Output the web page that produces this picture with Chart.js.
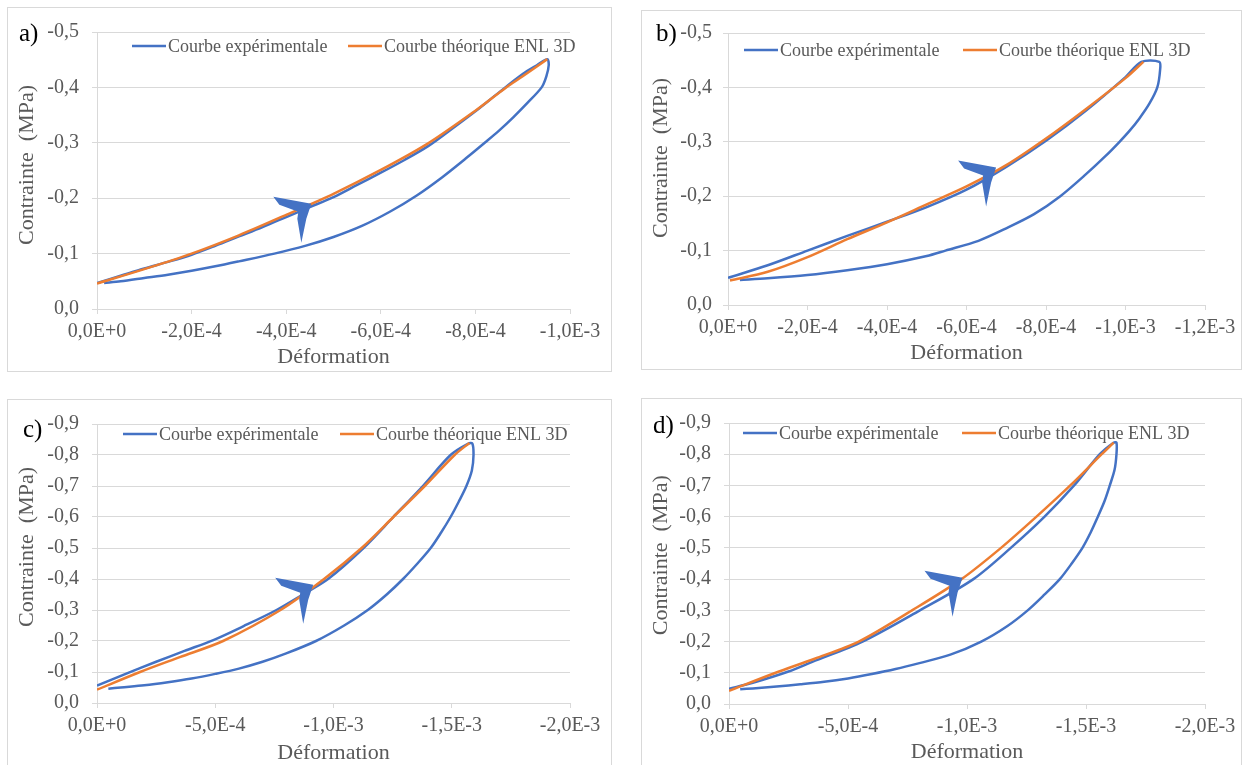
<!DOCTYPE html>
<html>
<head>
<meta charset="utf-8">
<script src="https://cdn.jsdelivr.net/npm/chart.js@4.4.1/dist/chart.umd.min.js"></script>
<style>
  body { margin: 0; background: #fff; width: 1245px; height: 765px; overflow: hidden; position: relative; font-family: 'Liberation Serif', serif; }
  .box { position: absolute; border: 1px solid #d9d9d9; box-sizing: border-box; }
  canvas { position: absolute; }
  .tag { position: absolute; font-size: 25px; line-height: 1; color: #000; }
</style>
</head>
<body>
<div class="box" style="left:7px;top:7px;width:605px;height:365px"></div>
<div class="box" style="left:641px;top:10px;width:601px;height:360px"></div>
<div class="box" style="left:7px;top:399px;width:605px;height:377px"></div>
<div class="box" style="left:641px;top:398px;width:601px;height:377px"></div>
<canvas id="chartA" width="605" height="365" style="left:7px;top:7px"></canvas>
<canvas id="chartB" width="601" height="360" style="left:641px;top:10px"></canvas>
<canvas id="chartC" width="605" height="377" style="left:7px;top:399px"></canvas>
<canvas id="chartD" width="601" height="377" style="left:641px;top:398px"></canvas>
<div class="tag" style="left:19px;top:20px">a)</div>
<div class="tag" style="left:656px;top:20px">b)</div>
<div class="tag" style="left:23px;top:416px">c)</div>
<div class="tag" style="left:653px;top:412px">d)</div>
<script>
// ---- données ----
const seriesNames = ['Courbe expérimentale', 'Courbe théorique ENL 3D'];
const xTitle = 'Déformation';
const yTitle = 'Contrainte  (MPa)';

// a)
const xLabelsA = ['0,0E+0', '-2,0E-4', '-4,0E-4', '-6,0E-4', '-8,0E-4', '-1,0E-3'];
const yLabelsA = ['0,0', '-0,1', '-0,2', '-0,3', '-0,4', '-0,5'];
const expStrainA = [0, -0.5e-4, -1e-4, -1.5e-4, -2e-4, -2.5e-4, -3e-4, -3.5e-4, -4e-4, -4.5e-4, -5e-4, -5.5e-4, -6e-4, -6.5e-4, -7e-4, -7.5e-4, -8e-4, -8.5e-4, -9e-4, -9.3e-4, -9.52e-4,
  -9.55e-4, -9.5e-4, -9.4e-4, -9.1e-4, -8.8e-4, -8.5e-4, -8.21e-4, -7.8e-4, -7.3e-4, -6.76e-4, -6.2e-4, -5.6e-4, -5.0e-4, -4.4e-4, -3.75e-4, -3.0e-4, -2.5e-4, -2.0e-4, -1.5e-4, -1.0e-4, -0.5e-4, -0.15e-4];
const expStressA = [-0.047, -0.060, -0.073, -0.085, -0.098, -0.114, -0.131, -0.148, -0.166, -0.184, -0.202, -0.224, -0.246, -0.269, -0.294, -0.325, -0.357, -0.391, -0.424, -0.440, -0.451,
  -0.440, -0.420, -0.400, -0.372, -0.346, -0.322, -0.301, -0.272, -0.238, -0.205, -0.176, -0.150, -0.130, -0.114, -0.100, -0.086, -0.077, -0.069, -0.062, -0.056, -0.050, -0.047];
const theoStrainA = [0, -1e-4, -2e-4, -3e-4, -4e-4, -5e-4, -6e-4, -7e-4, -8e-4, -8.65e-4, -9e-4, -9.52e-4];
const theoStressA = [-0.046, -0.072, -0.100, -0.133, -0.170, -0.208, -0.251, -0.299, -0.358, -0.400, -0.420, -0.451];
const arrowA = [-4.51e-4, -0.188];

// b)
const xLabelsB = ['0,0E+0', '-2,0E-4', '-4,0E-4', '-6,0E-4', '-8,0E-4', '-1,0E-3', '-1,2E-3'];
const yLabelsB = ['0,0', '-0,1', '-0,2', '-0,3', '-0,4', '-0,5'];
const expStrainB = [0, -1e-4, -2e-4, -3e-4, -4e-4, -5e-4, -6e-4, -7e-4, -8e-4, -9e-4, -1e-3, -1.04e-3, -1.085e-3,
  -1.087e-3, -1.08e-3, -1.06e-3, -1.035e-3, -1.01e-3, -9.85e-4, -9.5e-4, -9.0e-4, -8.36e-4, -7.7e-4, -7.0e-4, -6.3e-4, -5.47e-4, -5.0e-4, -4.0e-4, -3.0e-4, -2.0e-4, -1.0e-4, -0.3e-4];
const expStressB = [-0.050, -0.073, -0.100, -0.127, -0.153, -0.180, -0.212, -0.254, -0.302, -0.357, -0.419, -0.447, -0.447,
  -0.432, -0.400, -0.370, -0.343, -0.320, -0.300, -0.274, -0.240, -0.200, -0.167, -0.141, -0.118, -0.100, -0.090, -0.075, -0.064, -0.055, -0.049, -0.046];
const theoStrainB = [-0.05e-4, -1e-4, -2e-4, -3e-4, -4e-4, -5e-4, -6e-4, -7e-4, -8e-4, -9e-4, -1e-3, -1.045e-3];
const theoStressB = [-0.045, -0.061, -0.088, -0.121, -0.152, -0.185, -0.218, -0.257, -0.306, -0.360, -0.417, -0.447];
const arrowB = [-6.72e-4, -0.251];

// c)
const xLabelsC = ['0,0E+0', '-5,0E-4', '-1,0E-3', '-1,5E-3', '-2,0E-3'];
const yLabelsC = ['0,0', '-0,1', '-0,2', '-0,3', '-0,4', '-0,5', '-0,6', '-0,7', '-0,8', '-0,9'];
const expStrainC = [0, -1.24e-4, -2.5e-4, -3.7e-4, -4.92e-4, -6.2e-4, -7.59e-4, -8.7e-4, -9.77e-4, -1.127e-3, -1.253e-3, -1.378e-3, -1.495e-3, -1.57e-3, -1.587e-3,
  -1.592e-3, -1.585e-3, -1.562e-3, -1.53e-3, -1.495e-3, -1.455e-3, -1.411e-3, -1.355e-3, -1.294e-3, -1.225e-3, -1.145e-3, -1.045e-3, -9.26e-4, -8.0e-4, -7.0e-4, -6.0e-4, -5.0e-4, -4.0e-4, -3.0e-4, -2.0e-4, -1.0e-4, -0.48e-4];
const expStressC = [-0.056, -0.095, -0.133, -0.168, -0.203, -0.248, -0.300, -0.350, -0.400, -0.500, -0.600, -0.700, -0.800, -0.837, -0.837,
  -0.800, -0.750, -0.700, -0.650, -0.600, -0.550, -0.500, -0.450, -0.400, -0.350, -0.300, -0.250, -0.200, -0.160, -0.133, -0.111, -0.094, -0.079, -0.067, -0.057, -0.050, -0.046];
const theoStrainC = [0, -1.82e-4, -3.5e-4, -5.33e-4, -7.76e-4, -9.6e-4, -1.119e-3, -1.253e-3, -1.386e-3, -1.512e-3, -1.575e-3];
const theoStressC = [-0.043, -0.100, -0.148, -0.200, -0.300, -0.400, -0.500, -0.600, -0.700, -0.800, -0.839];
const arrowC = [-9.1e-4, -0.378];

// d)
const xLabelsD = ['0,0E+0', '-5,0E-4', '-1,0E-3', '-1,5E-3', '-2,0E-3'];
const yLabelsD = ['0,0', '-0,1', '-0,2', '-0,3', '-0,4', '-0,5', '-0,6', '-0,7', '-0,8', '-0,9'];
const expStrainD = [0, -1e-4, -2.5e-4, -3.5e-4, -5.61e-4, -8.02e-4, -1.027e-3, -1.184e-3, -1.326e-3, -1.45e-3, -1.558e-3, -1.616e-3, -1.628e-3,
  -1.628e-3, -1.62e-3, -1.6e-3, -1.578e-3, -1.55e-3, -1.52e-3, -1.485e-3, -1.44e-3, -1.39e-3, -1.325e-3, -1.255e-3, -1.17e-3, -1.06e-3, -9.3e-4, -8e-4, -7e-4, -6e-4, -5e-4, -4e-4, -3e-4, -2e-4, -1e-4, -0.47e-4];
const expStressD = [-0.049, -0.068, -0.104, -0.135, -0.200, -0.300, -0.400, -0.500, -0.600, -0.700, -0.800, -0.837, -0.837,
  -0.800, -0.750, -0.700, -0.650, -0.600, -0.550, -0.500, -0.450, -0.400, -0.350, -0.300, -0.250, -0.200, -0.158, -0.131, -0.112, -0.096, -0.082, -0.071, -0.063, -0.056, -0.050, -0.047];
const theoStrainD = [0, -1.96e-4, -3.6e-4, -5.45e-4, -7.69e-4, -9.77e-4, -1.143e-3, -1.292e-3, -1.434e-3, -1.566e-3, -1.616e-3];
const theoStressD = [-0.042, -0.100, -0.145, -0.200, -0.300, -0.400, -0.500, -0.600, -0.700, -0.800, -0.837];
const arrowD = [-9.77e-4, -0.401];

// ---- style ----
const blue = '#4472C4';
const orange = '#ED7D31';
const txtColor = '#595959';
const gridColor = '#d9d9d9';
const serif = "'Liberation Serif', 'Times New Roman', serif";
// forme de la flèche bleue (pixels, relatif à la pointe)
const arrowShape = [[-37, -8], [1, -1], [-4, 14], [-9, 38], [-13, 14], [-12, 7], [-31, 0]];

function pts(xs, ys) {
    return xs.map((x, i) => ({ x: x, y: ys[i] }));
}

const overlayPlugin = {
    id: 'overlay',
    afterDatasetsDraw(chart, args, opts) {
        const ctx = chart.ctx;
        const area = chart.chartArea;
        // flèche
        const px = chart.scales.x.getPixelForValue(opts.arrow[0]);
        const py = chart.scales.y.getPixelForValue(opts.arrow[1]);
        ctx.save();
        ctx.fillStyle = blue;
        ctx.beginPath();
        arrowShape.forEach((p, i) => {
            if (i === 0) ctx.moveTo(px + p[0], py + p[1]);
            else ctx.lineTo(px + p[0], py + p[1]);
        });
        ctx.closePath();
        ctx.fill();

        // légende dans la zone du graphique
        const ly = area.top + opts.legend.dy;
        ctx.font = '18px ' + serif;
        ctx.textBaseline = 'middle';
        ctx.lineWidth = 2.5;
        [blue, orange].forEach((c, i) => {
            const lx = area.left + opts.legend.x[i];
            ctx.strokeStyle = c;
            ctx.beginPath();
            ctx.moveTo(lx, ly);
            ctx.lineTo(lx + 34, ly);
            ctx.stroke();
            ctx.fillStyle = txtColor;
            ctx.fillText(seriesNames[i], lx + 36, ly + 1);
        });
        ctx.restore();
    }
};

function makeChart(id, p) {
    const ctx = document.getElementById(id).getContext('2d');
    return new Chart(ctx, {
        type: 'scatter',
        data: {
            datasets: [{
                label: seriesNames[0],
                data: pts(p.expX, p.expY),
                showLine: true,
                borderColor: blue,
                borderWidth: 2.5,
                pointRadius: 0,
                tension: 0.3,
                order: 1
            }, {
                label: seriesNames[1],
                data: pts(p.theoX, p.theoY),
                showLine: true,
                borderColor: orange,
                borderWidth: 2.5,
                pointRadius: 0,
                tension: 0.3,
                order: 0
            }]
        },
        options: {
            responsive: false,
            animation: false,
            layout: { padding: { left: 0, top: p.padTop, right: p.padRight, bottom: 0 } },
            plugins: {
                legend: { display: false },
                tooltip: { enabled: false },
                overlay: { arrow: p.arrow, legend: p.legend }
            },
            scales: {
                x: {
                    type: 'linear',
                    min: p.xMin,
                    max: 0,
                    reverse: true,
                    afterBuildTicks: s => {
                        s.ticks = p.xLabels.map((_, i) => ({ value: p.xMin * i / (p.xLabels.length - 1) }));
                    },
                    afterFit: s => { s.height = p.xAxisH; },
                    grid: { drawOnChartArea: false, tickLength: 5, color: gridColor },
                    border: { color: gridColor },
                    ticks: {
                        autoSkip: false, maxRotation: 0, padding: 6, color: txtColor,
                        font: { family: serif, size: 20 },
                        callback: (v, i) => p.xLabels[i]
                    },
                    title: {
                        display: true, text: xTitle, color: txtColor,
                        font: { family: serif, size: 22 },
                        padding: { top: 0, bottom: p.xTitlePad }
                    }
                },
                y: {
                    type: 'linear',
                    min: p.yMin,
                    max: 0,
                    reverse: true,
                    afterBuildTicks: s => {
                        s.ticks = p.yLabels.map((_, i) => ({ value: p.yMin * i / (p.yLabels.length - 1) }));
                    },
                    afterFit: s => { s.width = p.yAxisW; },
                    grid: { tickLength: 5, color: gridColor },
                    border: { color: gridColor },
                    ticks: {
                        autoSkip: false, padding: p.yTickPad, color: txtColor,
                        font: { family: serif, size: 20 },
                        callback: (v, i) => p.yLabels[i]
                    },
                    title: {
                        display: true, text: ' '.repeat(p.yTitleShift) + yTitle, color: txtColor,
                        font: { family: serif, size: 22 },
                        padding: { top: 7, bottom: 0 }
                    }
                }
            }
        },
        plugins: [overlayPlugin]
    });
}

makeChart('chartA', {
    expX: expStrainA, expY: expStressA, theoX: theoStrainA, theoY: theoStressA,
    xLabels: xLabelsA, yLabels: yLabelsA, xMin: -1e-3, yMin: -0.5, arrow: arrowA,
    yAxisW: 90, padTop: 19, padRight: 42, xAxisH: 63, xTitlePad: 2, yTickPad: 13, yTitleShift: 2,
    legend: { x: [35, 251], dy: 14 }
});
makeChart('chartB', {
    expX: expStrainB, expY: expStressB, theoX: theoStrainB, theoY: theoStressB,
    xLabels: xLabelsB, yLabels: yLabelsB, xMin: -1.2e-3, yMin: -0.5, arrow: arrowB,
    yAxisW: 87, padTop: 19, padRight: 37, xAxisH: 65, xTitlePad: 4, yTickPad: 11, yTitleShift: 4,
    legend: { x: [16, 235], dy: 17 }
});
makeChart('chartC', {
    expX: expStrainC, expY: expStressC, theoX: theoStrainC, theoY: theoStressC,
    xLabels: xLabelsC, yLabels: yLabelsC, xMin: -2e-3, yMin: -0.9, arrow: arrowC,
    yAxisW: 90, padTop: 19, padRight: 42, xAxisH: 73, xTitlePad: 10, yTickPad: 13, yTitleShift: 6,
    legend: { x: [26, 243], dy: 10 }
});
makeChart('chartD', {
    expX: expStrainD, expY: expStressD, theoX: theoStrainD, theoY: theoStressD,
    xLabels: xLabelsD, yLabels: yLabelsD, xMin: -2e-3, yMin: -0.9, arrow: arrowD,
    yAxisW: 88, padTop: 20, padRight: 37, xAxisH: 71, xTitlePad: 10, yTickPad: 13, yTitleShift: 3,
    legend: { x: [14, 233], dy: 10 }
});
</script>
</body>
</html>
